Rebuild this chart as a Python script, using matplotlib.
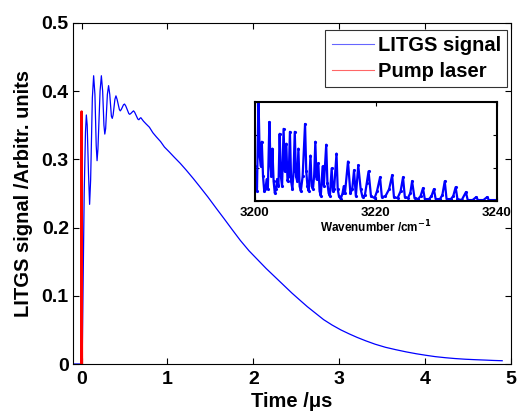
import matplotlib
matplotlib.use('Agg')
import matplotlib.pyplot as plt

plt.rcParams['font.family'] = ['Liberation Sans', 'DejaVu Sans']
plt.rcParams['font.weight'] = 'bold'

# LITGS time trace
time_us = [-0.1, 0.0, 0.008, 0.03, 0.045, 0.055, 0.065, 0.08, 0.093, 0.105,
           0.125, 0.14, 0.155, 0.17, 0.18, 0.19, 0.215, 0.23, 0.245, 0.26,
           0.27, 0.28, 0.30, 0.314, 0.328, 0.347, 0.357, 0.367, 0.388, 0.40,
           0.413, 0.44, 0.45, 0.462, 0.488, 0.50, 0.515, 0.55, 0.56, 0.572,
           0.595, 0.605, 0.618, 0.655, 0.667, 0.679, 0.69, 0.72, 0.75, 0.79,
           0.83, 0.87, 0.92, 0.965, 1.02, 1.08, 1.15, 1.22, 1.30, 1.37,
           1.47, 1.57, 1.66, 1.76, 1.85, 1.95, 2.05, 2.15, 2.25, 2.35,
           2.45, 2.535, 2.63, 2.73, 2.82, 2.92, 3.02, 3.12, 3.21, 3.31,
           3.42, 3.54, 3.66, 3.78, 3.90, 4.01, 4.12, 4.24, 4.35, 4.47,
           4.59, 4.71, 4.80, 4.90]
signal = [0.0, 0.0, 0.02, 0.25, 0.34, 0.365, 0.35, 0.28, 0.234, 0.27,
          0.39, 0.4225, 0.395, 0.32, 0.298, 0.315, 0.40, 0.4225, 0.40, 0.35,
          0.337, 0.345, 0.395, 0.408, 0.395, 0.363, 0.36, 0.365, 0.388, 0.393,
          0.388, 0.373, 0.371, 0.373, 0.38, 0.381, 0.378, 0.367, 0.366, 0.367,
          0.37, 0.371, 0.369, 0.359, 0.358, 0.36, 0.361, 0.356, 0.352, 0.347,
          0.339, 0.333, 0.326, 0.318, 0.311, 0.303, 0.294, 0.284, 0.272, 0.261,
          0.245, 0.228, 0.213, 0.196, 0.181, 0.166, 0.153, 0.140, 0.128, 0.116,
          0.104, 0.0945, 0.084, 0.074, 0.065, 0.057, 0.050, 0.044, 0.039, 0.034,
          0.029, 0.0245, 0.021, 0.0178, 0.015, 0.0128, 0.0108, 0.0092, 0.0080, 0.0070,
          0.0063, 0.0057, 0.0052, 0.0048]

# pump laser pulse
pump_t = [-0.003, 0.0, 0.003]
pump_y = [0.0, 0.37, 0.0]

# inset spectrum
wavenumber = [3200.0, 3200.15, 3200.35, 3200.6, 3200.8, 3201.0, 3201.15, 3201.35, 3201.55, 3201.75,
              3201.95, 3202.15, 3202.4, 3202.6, 3202.75, 3202.9, 3203.1, 3203.3, 3203.5, 3203.7,
              3203.9, 3204.1, 3204.3, 3204.5, 3204.75, 3204.95, 3205.2, 3205.4, 3205.6, 3205.8,
              3206.0, 3206.2, 3206.4, 3206.6, 3206.8, 3207.0, 3207.2, 3207.4, 3207.6, 3207.9,
              3208.3, 3208.5, 3208.7, 3208.9, 3209.2, 3209.4, 3209.6, 3209.8, 3210.0, 3210.2,
              3210.5, 3210.7, 3210.9, 3211.2, 3211.4, 3211.8, 3212.0, 3212.2, 3212.4, 3212.7,
              3212.9, 3213.1, 3213.5, 3213.7, 3213.9, 3214.2, 3214.5, 3214.7, 3214.9, 3215.4,
              3215.8, 3216.1, 3216.4, 3216.7, 3217.1, 3217.5, 3217.8, 3218.2, 3218.5, 3218.8,
              3219.2, 3219.8, 3220.2, 3220.7, 3221.0, 3221.6, 3222.2, 3222.7, 3223.0, 3223.6,
              3224.1, 3224.5, 3224.8, 3225.3, 3225.7, 3226.0, 3226.4, 3227.0, 3227.4, 3227.8,
              3228.1, 3228.8, 3229.2, 3229.6, 3229.9, 3230.6, 3231.0, 3231.4, 3231.7, 3232.4,
              3232.8, 3233.2, 3233.5, 3234.2, 3234.9, 3235.2, 3236.0, 3236.6, 3236.9, 3237.8,
              3238.4, 3238.7, 3240.0]
intensity = [0.35, 0.15, 0.10, 1.05, 0.45, 0.35, 0.60, 0.25, 0.10, 0.12,
             0.22, 0.12, 0.80, 0.35, 0.25, 0.53, 0.20, 0.08, 0.12, 0.22,
             0.15, 0.68, 0.25, 0.15, 0.73, 0.30, 0.58, 0.20, 0.25, 0.70,
             0.20, 0.12, 0.30, 0.70, 0.25, 0.20, 0.53, 0.15, 0.10, 0.25,
             0.78, 0.30, 0.15, 0.10, 0.46, 0.15, 0.12, 0.25, 0.60, 0.22,
             0.38, 0.10, 0.05, 0.35, 0.15, 0.57, 0.18, 0.08, 0.05, 0.33,
             0.10, 0.12, 0.48, 0.12, 0.05, 0.02, 0.08, 0.15, 0.08, 0.40,
             0.08, 0.12, 0.31, 0.05, 0.36, 0.12, 0.04, 0.06, 0.18, 0.30,
             0.05, 0.03, 0.10, 0.24, 0.04, 0.05, 0.12, 0.26, 0.04, 0.03,
             0.10, 0.24, 0.04, 0.03, 0.08, 0.20, 0.03, 0.02, 0.05, 0.13,
             0.02, 0.02, 0.05, 0.12, 0.02, 0.02, 0.06, 0.20, 0.02, 0.02,
             0.05, 0.14, 0.02, 0.01, 0.09, 0.01, 0.01, 0.04, 0.01, 0.01,
             0.04, 0.01, 0.01]

fig = plt.figure(figsize=(5.18, 4.12), dpi=100)
ax = fig.add_axes([0.141, 0.1165, 0.845, 0.828])

ax.plot(time_us, signal, color='#0000ff', linewidth=0.9, label='LITGS signal')
ax.plot(pump_t, pump_y, color='#ff0000', linewidth=1.8, label='Pump laser')

ax.set_xlim(-0.1, 5)
ax.set_ylim(0, 0.5)
ax.set_xticks([0, 1, 2, 3, 4, 5])
ax.set_yticks([0, 0.1, 0.2, 0.3, 0.4, 0.5])
ax.set_yticklabels(['0', '0.1', '0.2', '0.3', '0.4', '0.5'])
ax.tick_params(direction='in', top=True, right=True, labelsize=14, length=4)
ax.tick_params(axis='x', pad=5)
ax.tick_params(axis='y', pad=3)
for lab in ax.get_xticklabels() + ax.get_yticklabels():
    lab.set_fontweight('bold')
ax.set_xlabel('Time /μs', fontsize=14.5, fontweight='bold', labelpad=3)
ax.set_ylabel('LITGS signal /Arbitr. units', fontsize=14.5, fontweight='bold', labelpad=6)

leg = ax.legend(loc='upper right', bbox_to_anchor=(507 / 518, 1 - 30 / 412),
                bbox_transform=fig.transFigure, borderaxespad=0,
                fontsize=14.5, frameon=True, fancybox=False, edgecolor='black',
                handlelength=2.1, borderpad=0.3, labelspacing=0.35, handletextpad=0.2)
leg.get_frame().set_linewidth(0.8)
for txt in leg.get_texts():
    txt.set_fontweight('bold')
for h in leg.get_lines():
    h.set_linewidth(0.8)
    h.set_alpha(0.6)

# inset
ins = fig.add_axes([0.492, 0.512, 0.467, 0.240])
ins.plot(wavenumber, intensity, color='#0000ff', linewidth=1.6, marker='.', markersize=2.5)
ins.set_xlim(3200, 3240)
ins.set_ylim(0, 1)
ins.set_xticks([3200, 3220, 3240])
ins.set_yticks([0, 1/3, 2/3, 1])
ins.set_yticklabels([])
ins.tick_params(direction='in', top=True, right=True, labelsize=9.5, length=3, pad=4)
for lab in ins.get_xticklabels():
    lab.set_fontweight('bold')
for sp in ins.spines.values():
    sp.set_linewidth(1.5)
ins.set_xlabel('Wavenumber /cm$^{\\mathbf{-1}}$', fontsize=8.5, fontweight='bold', labelpad=0)

fig.savefig('out.png', dpi=100)
